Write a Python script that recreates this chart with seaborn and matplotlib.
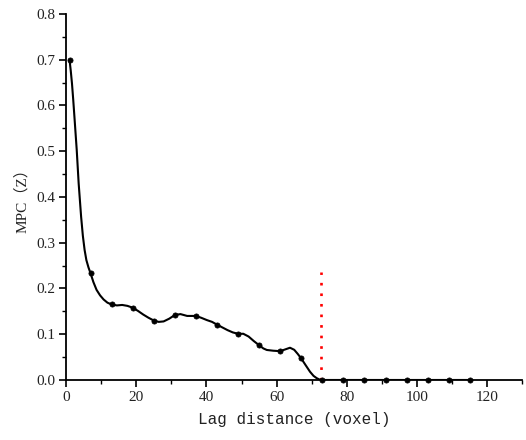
import matplotlib
matplotlib.use("Agg")
import matplotlib.pyplot as plt
import seaborn as sns
import pandas as pd
from matplotlib.ticker import MultipleLocator

# Sampled lag distances (markers)
lag_points = [1, 7, 13, 19, 25, 31, 37, 43, 49, 55, 61, 67, 73,
              79, 85, 91, 97, 103, 109, 115]
mpc_points = [0.700, 0.233, 0.165, 0.158, 0.130, 0.142, 0.140, 0.121,
              0.101, 0.076, 0.063, 0.048, 0.001,
              0.0, 0.0, 0.0, 0.0, 0.0, 0.0, 0.0]

# Smooth fitted curve
curve_lag = [1, 1.35, 1.7, 2.05, 2.4, 3.05, 3.6, 4.3, 4.8, 5.3, 5.8, 6.4, 7, 7.8, 8.7,
             9.7, 10.7, 11.8, 13,
             14.5, 16, 17.5, 19, 20.5, 22, 23.5, 25, 26.4, 27.8, 29.4, 31, 32.6, 34.5,
             37, 38.5, 40.1, 41.6, 43, 44.5, 46, 47.5, 49, 50.5, 52, 53.5, 55, 56.2,
             57.2, 59, 61, 62.5, 63.8, 65, 66, 67, 68.2, 69.5, 70.5, 71.4, 72.2, 73,
             79, 85, 91, 97, 103, 109, 115]
curve_mpc = [0.700, 0.676, 0.648, 0.613, 0.575, 0.503, 0.430, 0.357, 0.315, 0.284, 0.262,
             0.246, 0.233, 0.214, 0.197,
             0.185, 0.176, 0.169, 0.165,
             0.163, 0.164, 0.162, 0.158, 0.151, 0.143, 0.136, 0.130, 0.127, 0.128, 0.134,
             0.142, 0.144, 0.140,
             0.140, 0.136, 0.131, 0.127, 0.121, 0.115, 0.109, 0.104, 0.101, 0.101, 0.095,
             0.085, 0.076, 0.069,
             0.0656, 0.064, 0.063, 0.067, 0.0705, 0.066, 0.057, 0.047, 0.033, 0.018, 0.009,
             0.004, 0.001, 0.0,
             0.0, 0.0, 0.0, 0.0, 0.0, 0.0, 0.0]

# Threshold marker
cut_lag = [72.5, 72.5]
cut_mpc = [0.0, 0.236]

x_ticks = [0, 20, 40, 60, 80, 100, 120]
y_ticks = [0.0, 0.1, 0.2, 0.3, 0.4, 0.5, 0.6, 0.7, 0.8]

sns.set_theme(style="ticks")
plt.rcParams['font.family'] = ['Liberation Serif', 'Noto Sans CJK SC', 'DejaVu Sans']

fig = plt.figure(figsize=(5.26, 4.40), dpi=100)
ax = fig.add_axes([0.1255, 0.1364, 0.8677, 0.8318])

curve_df = pd.DataFrame({"lag": curve_lag, "mpc": curve_mpc})
pts_df = pd.DataFrame({"lag": lag_points, "mpc": mpc_points})

sns.lineplot(data=curve_df, x="lag", y="mpc", color="black", linewidth=1.5,
             ax=ax, sort=False, zorder=3)
sns.scatterplot(data=pts_df, x="lag", y="mpc", color="black", s=14,
                edgecolor="black", linewidth=0.5, ax=ax, zorder=4, clip_on=False)
ax.plot(cut_lag, cut_mpc, color="red", linewidth=1.9, linestyle=(0, (1, 3.0)), zorder=2)

ax.set_xlim(0, 130)
ax.set_ylim(0, 0.8)
ax.set_xticks(x_ticks)
ax.set_yticks(y_ticks)
ax.set_xticklabels([str(v) for v in x_ticks])
ax.set_yticklabels([f"{v:.1f}" for v in y_ticks])
ax.xaxis.set_minor_locator(MultipleLocator(10))
ax.yaxis.set_minor_locator(MultipleLocator(0.05))

for s in ["top", "right"]:
    ax.spines[s].set_visible(False)
for s in ["left", "bottom"]:
    ax.spines[s].set_linewidth(1.3)
    ax.spines[s].set_color("black")

ax.tick_params(axis="both", which="major", direction="out", length=5, width=1.2,
               colors="black", labelsize=11, pad=3)
ax.tick_params(axis="both", which="minor", direction="out", length=3, width=1.0,
               colors="black")
for lab in ax.get_xticklabels() + ax.get_yticklabels():
    lab.set_color("#222222")

ax.set_xlabel("Lag distance (voxel)", family=["Liberation Mono", "DejaVu Sans Mono"],
              fontsize=11.5, labelpad=6, color="#222222")
ax.set_ylabel("MPC（Z）", family=["Liberation Serif", "Noto Sans CJK SC"],
              fontsize=11, labelpad=5, color="#222222")

fig.savefig("out.png", dpi=100)
